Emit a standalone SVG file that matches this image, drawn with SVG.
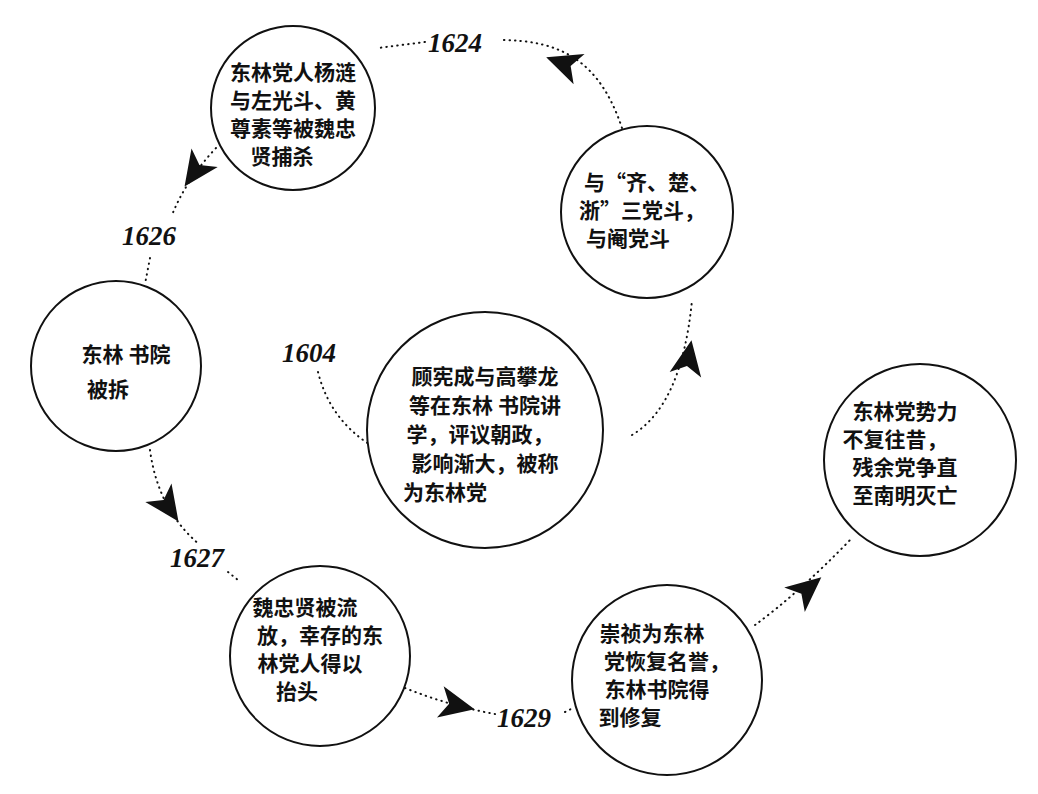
<svg xmlns="http://www.w3.org/2000/svg" width="1038" height="794" viewBox="0 0 1038 794">
<style>
.c{fill:#fff;stroke:#111;stroke-width:2}
.t{font-family:"Noto Sans CJK SC","Noto Sans CJK TC",sans-serif;font-weight:bold;font-size:21px;fill:#111;text-anchor:middle}
.y{font-family:"Liberation Serif",serif;font-weight:bold;font-style:italic;font-size:27px;fill:#111}
.d{fill:none;stroke:#111;stroke-width:2;stroke-dasharray:0.5 5;stroke-linecap:round}
.a{fill:#111}
</style>
<defs><path id="ah" d="M20,0 L-15,-16 L-6,0 L-15,16 Z"/></defs>
<rect width="1038" height="794" fill="#fff"/>
<g id="connectors">
<path class="d" d="M318,372 Q330,420 372,446"/>
<path class="d" d="M632,435 Q682,405 692,300"/>
<path class="d" d="M622,128 C600,62 562,40 500,40"/>
<path class="d" d="M425,42 L378,48"/>
<path class="d" d="M216,148 Q186,180 172,215"/>
<path class="d" d="M150,258 L145,284"/>
<path class="d" d="M150,450 Q158,510 200,545"/>
<path class="d" d="M228,572 L238,580"/>
<path class="d" d="M405,688 Q450,706 495,714"/>
<path class="d" d="M565,712 L573,708"/>
<path class="d" d="M755,625 Q800,592 852,538"/>
<use href="#ah" class="a" transform="translate(565,64) rotate(200)"/>
<use href="#ah" class="a" transform="translate(196,170) rotate(125)"/>
<use href="#ah" class="a" transform="translate(688,360) rotate(-80)"/>
<use href="#ah" class="a" transform="translate(167,505) rotate(55)"/>
<use href="#ah" class="a" transform="translate(455,705) rotate(12)"/>
<use href="#ah" class="a" transform="translate(806,590) rotate(-40)"/>
<text class="y" x="428" y="52">1624</text>
<text class="y" x="122" y="245">1626</text>
<text class="y" x="282" y="362">1604</text>
<text class="y" x="170" y="567">1627</text>
<text class="y" x="497" y="727">1629</text>
</g>
<g id="n1"><circle class="c" cx="293" cy="108" r="82"/>
<text class="t" x="293" y="80">东林党人杨涟</text><text class="t" x="293" y="108">与左光斗、黄</text><text class="t" x="293" y="136">尊素等被魏忠</text><text class="t" x="282" y="164">贤捕杀</text></g>
<g id="n2"><circle class="c" cx="647" cy="212" r="86"/>
<text class="t" x="647" y="190">与“齐、楚、</text><text class="t" x="642" y="218">浙”三党斗，</text><text class="t" x="628" y="246">与阉党斗</text></g>
<g id="n3"><circle class="c" cx="116" cy="366" r="85"/>
<text class="t" x="126" y="362">东林 书院</text><text class="t" x="108" y="397">被拆</text></g>
<g id="n4"><circle class="c" cx="485" cy="430" r="118"/>
<text class="t" x="485" y="384">顾宪成与高攀龙</text><text class="t" x="485" y="413">等在东林 书院讲</text><text class="t" x="480" y="442">学，评议朝政，</text><text class="t" x="485" y="471">影响渐大，被称</text><text class="t" x="445" y="500">为东林党</text></g>
<g id="n5"><circle class="c" cx="920" cy="460" r="96"/>
<text class="t" x="905" y="419">东林党势力</text><text class="t" x="895" y="447">不复往昔，</text><text class="t" x="905" y="475">残余党争直</text><text class="t" x="905" y="503">至南明灭亡</text></g>
<g id="n6"><circle class="c" cx="320" cy="656" r="90"/>
<text class="t" x="305" y="615">魏忠贤被流</text><text class="t" x="320" y="643">放，幸存的东</text><text class="t" x="310" y="671">林党人得以</text><text class="t" x="297" y="699">抬头</text></g>
<g id="n7"><circle class="c" cx="667" cy="680" r="95"/>
<text class="t" x="652" y="641">崇祯为东林</text><text class="t" x="667" y="669">党恢复名誉，</text><text class="t" x="657" y="697">东林书院得</text><text class="t" x="630" y="725">到修复</text></g>
</svg>
